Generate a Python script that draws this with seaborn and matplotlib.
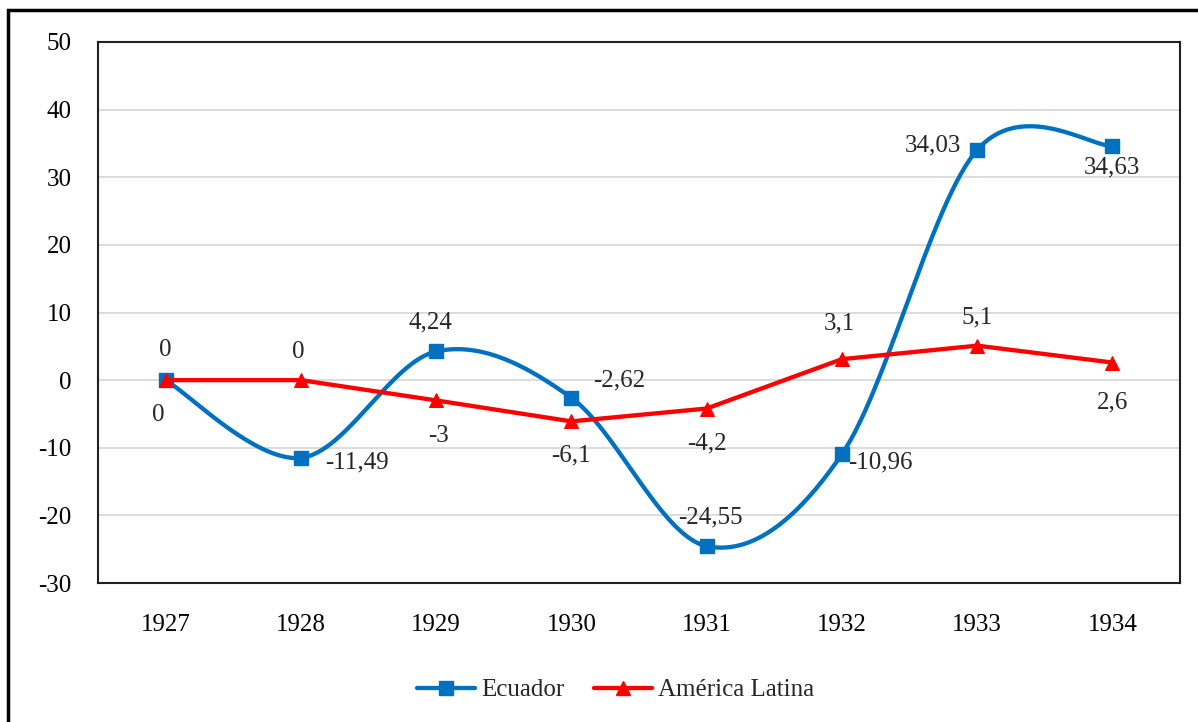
import numpy as np
import pandas as pd
import matplotlib
matplotlib.use("Agg")
import matplotlib.pyplot as plt
from matplotlib.lines import Line2D
from matplotlib.patches import Rectangle
import seaborn as sns

# Data
years = ["1927", "1928", "1929", "1930", "1931", "1932", "1933", "1934"]
ecuador = [0, -11.49, 4.24, -2.62, -24.55, -10.96, 34.03, 34.63]
america_latina = [0, 0, -3, -6.1, -4.2, 3.1, 5.1, 2.6]
ecuador_labels = ["0", "-11,49", "4,24", "-2,62", "-24,55", "-10,96", "34,03", "34,63"]
al_labels = ["0", "0", "-3", "-6,1", "-4,2", "3,1", "5,1", "2,6"]

BLUE = "#0070C0"
RED = "#FF0000"
FONT = "Liberation Serif"
FS = 18


def excel_smooth(y, n=60):
    # Catmull-Rom style bezier like Excel's "smoothed line"
    x = np.arange(len(y), dtype=float)
    y = np.asarray(y, dtype=float)
    pts = np.column_stack([x, y])
    out = []
    for i in range(len(pts) - 1):
        p0 = pts[i - 1] if i > 0 else pts[i]
        p1, p2 = pts[i], pts[i + 1]
        p3 = pts[i + 2] if i + 2 < len(pts) else pts[i + 1]
        c1 = p1 + (p2 - p0) / 6
        c2 = p2 - (p3 - p1) / 6
        t = np.linspace(0, 1, n)[:, None]
        seg = ((1 - t) ** 3) * p1 + 3 * ((1 - t) ** 2) * t * c1 + 3 * (1 - t) * t ** 2 * c2 + t ** 3 * p2
        out.append(seg if i == 0 else seg[1:])
    return np.vstack(out)


df = pd.DataFrame({"x": np.arange(len(years)), "ecuador": ecuador, "al": america_latina})
curve = excel_smooth(ecuador)
df_curve = pd.DataFrame({"x": curve[:, 0], "y": curve[:, 1]})

sns.set_style("white")
plt.rcParams["font.family"] = [FONT, "DejaVu Serif"]
plt.rcParams["axes.unicode_minus"] = False

fig = plt.figure(figsize=(11.98, 7.22), dpi=100)
ax = fig.add_axes([98 / 1198, 1 - 583 / 722, (1180 - 98) / 1198, (583 - 42) / 722])

# grid
for v in range(-20, 50, 10):
    ax.axhline(v, color="#D9D9D9", lw=1.3, zorder=0)

# Ecuador smoothed line
sns.lineplot(data=df_curve, x="x", y="y", ax=ax, color=BLUE, lw=3.1, sort=False, zorder=3)
ax.plot(df["x"], df["ecuador"], ls="none", marker="s", ms=10, color=BLUE, zorder=4)

# America Latina
sns.lineplot(data=df, x="x", y="al", ax=ax, color=RED, lw=3.1, marker="^", ms=10,
             markeredgecolor=RED, zorder=5)

ax.set_xlim(-0.5, 7.5)
ax.set_ylim(-30, 50)
ax.set_yticks(range(-30, 51, 10))
ax.set_xticks(range(len(years)))
ax.set_xticklabels(years)
ax.set_xlabel("")
ax.set_ylabel("")
ax.tick_params(axis="both", length=0, labelsize=FS, colors="#000000")
ax.tick_params(axis="y", pad=19)
ax.tick_params(axis="x", pad=22)
for s in ax.spines.values():
    s.set_visible(True)
    s.set_color("#202020")
    s.set_linewidth(1.5)

# data labels (offsets in pixels)
eco_off = [(-7, -35, "center"), (24, -5, "left"), (-6, 29, "center"), (22, 17, "left"),
           (4, 29, "center"), (6, -8, "left"), (-16, 5, "right"), (0, -22, "center")]
al_off = [(0, 30, "center"), (-3, 28, "center"), (2, -36, "center"), (0, -34, "center"),
          (0, -35, "center"), (-2, 36, "center"), (0, 28, "center"), (0, -40, "center")]
for i in range(len(years)):
    dx, dy, ha = eco_off[i]
    ax.annotate(ecuador_labels[i], (i, ecuador[i]), xytext=(dx, dy), textcoords="offset pixels",
                ha=ha, va="center", fontsize=FS, zorder=6)
    dx, dy, ha = al_off[i]
    ax.annotate(al_labels[i], (i, america_latina[i]), xytext=(dx, dy), textcoords="offset pixels",
                ha=ha, va="center", fontsize=FS, zorder=6)

# legend
handles = [Line2D([], [], color=BLUE, lw=3.1, marker="s", ms=10),
           Line2D([], [], color=RED, lw=3.1, marker="^", ms=10)]
fig.legend(handles, ["Ecuador", "América Latina"], loc="center", bbox_to_anchor=(0.514, 0.044),
           ncol=2, frameon=False, fontsize=FS, handlelength=2.3, columnspacing=1.2, handletextpad=0.25)

# outer border (top and left visible)
fig.add_artist(Rectangle((8 / 1198, -0.1), 1.2, 1.1 - 10 / 722, transform=fig.transFigure,
                         fill=False, ec="black", lw=2.5))

fig.savefig("out.png", dpi=100)
